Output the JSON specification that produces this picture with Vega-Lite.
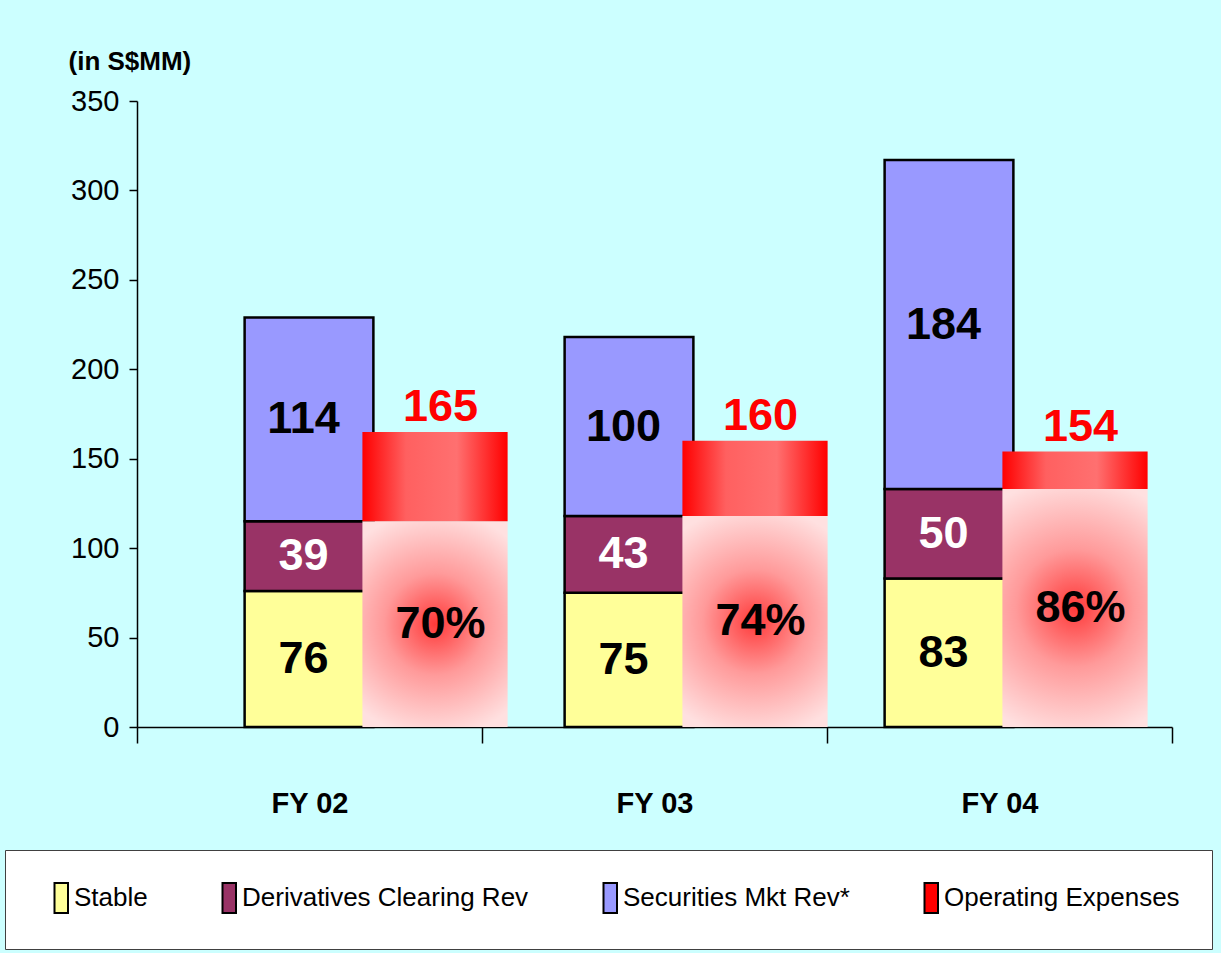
{
  "$schema": "https://vega.github.io/schema/vega-lite/v6.json",
  "width": 1035,
  "height": 626,
  "autosize": {"type": "none"},
  "padding": {"left": 137, "top": 101, "right": 49, "bottom": 226},
  "background": "#CCFFFF",
  "datasets": {
    "revenue": [
      {"year": "FY 02", "kind": "Revenue", "series": "Stable", "value": 76},
      {"year": "FY 02", "kind": "Revenue", "series": "Derivatives Clearing Rev", "value": 39},
      {"year": "FY 02", "kind": "Revenue", "series": "Securities Mkt Rev", "value": 114},
      {"year": "FY 03", "kind": "Revenue", "series": "Stable", "value": 75},
      {"year": "FY 03", "kind": "Revenue", "series": "Derivatives Clearing Rev", "value": 43},
      {"year": "FY 03", "kind": "Revenue", "series": "Securities Mkt Rev", "value": 100},
      {"year": "FY 04", "kind": "Revenue", "series": "Stable", "value": 83},
      {"year": "FY 04", "kind": "Revenue", "series": "Derivatives Clearing Rev", "value": 50},
      {"year": "FY 04", "kind": "Revenue", "series": "Securities Mkt Rev", "value": 184}
    ],
    "expenses": [
      {"year": "FY 02", "kind": "Expenses", "opex": 165, "covered": 115, "pct": "70%"},
      {"year": "FY 03", "kind": "Expenses", "opex": 160, "covered": 118, "pct": "74%"},
      {"year": "FY 04", "kind": "Expenses", "opex": 154, "covered": 133, "pct": "86%"}
    ]
  },
  "layer": [
    {
      "data": {"name": "expenses"},
      "mark": {"type": "rule", "opacity": 0},
      "encoding": {
        "x": {
          "field": "year", "type": "nominal",
          "scale": {"paddingInner": 0, "paddingOuter": 0},
          "axis": {
            "title": null, "tickBand": "extent", "tickSize": 16, "labelAngle": 0,
            "labelFont": "Liberation Sans, Arial, sans-serif",
            "labelFontWeight": "bold", "labelFontSize": 29, "labelPadding": 46,
            "labelBaseline": "top", "domainWidth": 1.5, "tickWidth": 1.5
          }
        }
      }
    },
    {
      "encoding": {
        "x": {
          "field": "year", "type": "nominal",
          "scale": {"paddingInner": 0, "paddingOuter": 0.1172, "align": 1},
          "axis": null
        },
        "xOffset": {
          "field": "kind", "type": "nominal",
          "scale": {"domain": ["Revenue", "Expenses"], "paddingInner": 0, "paddingOuter": 0.168}
        }
      },
      "layer": [
        {
          "data": {"name": "revenue"},
          "transform": [
            {"window": [{"op": "row_number", "as": "rank"}], "groupby": ["year"]},
            {"stack": "value", "groupby": ["year"], "sort": [{"field": "rank", "order": "ascending"}], "as": ["v0", "v1"]}
          ],
          "mark": {"type": "bar", "stroke": "black", "strokeWidth": 2.5, "width": {"band": 0.94}},
          "encoding": {
            "y": {"field": "v0", "type": "quantitative", "title": "(in S$MM)", "scale": {"domain": [0, 350], "nice": false}},
            "y2": {"field": "v1"},
            "color": {
              "field": "series", "type": "nominal",
              "scale": {
                "domain": ["Stable", "Derivatives Clearing Rev", "Securities Mkt Rev", "Operating Expenses"],
                "range": ["#FFFF99", "#993366", "#9999FF", "#FF0000"]
              },
              "legend": {
                "title": null, "orient": "none", "legendX": -132, "legendY": 749,
                "direction": "horizontal", "fillColor": "white", "strokeColor": "#404040",
                "padding": 32, "columnPadding": 57,
                "symbolType": "M0.1,-1H1V1H0.1Z", "symbolSize": 900,
                "symbolStrokeColor": "black", "symbolStrokeWidth": 2, "symbolOpacity": 1,
                "labelFont": "Liberation Sans, Arial, sans-serif",
                "labelFontSize": 26, "labelLimit": 0, "labelOffset": 5, "labelColor": "black",
                "labelExpr": "datum.label == 'Securities Mkt Rev' ? 'Securities Mkt Rev*' : datum.label"
              }
            }
          }
        },
        {
          "data": {"name": "revenue"},
          "transform": [
            {"window": [{"op": "row_number", "as": "rank"}], "groupby": ["year"]},
            {"stack": "value", "groupby": ["year"], "sort": [{"field": "rank", "order": "ascending"}], "as": ["v0", "v1"]},
            {"fold": ["v0", "v1"], "as": ["edge", "pos"]},
            {"aggregate": [{"op": "mean", "field": "pos", "as": "mid"}], "groupby": ["year", "kind", "series", "value"]}
          ],
          "mark": {"type": "text", "font": "Liberation Sans, Arial, sans-serif", "fontWeight": "bold", "fontSize": 45, "baseline": "middle", "align": "center"},
          "encoding": {
            "y": {"field": "mid", "type": "quantitative", "title": "(in S$MM)", "scale": {"domain": [0, 350], "nice": false}},
            "text": {"field": "value", "type": "quantitative"},
            "color": {"condition": {"test": "datum.series === 'Derivatives Clearing Rev'", "value": "white"}, "value": "black"}
          }
        },
        {
          "data": {"name": "expenses"},
          "mark": {
            "type": "bar", "width": {"band": 1.06},
            "fill": {
              "gradient": "radial", "x1": 0.5, "y1": 0.5, "r1": 0, "x2": 0.5, "y2": 0.5, "r2": 0.55,
              "stops": [
                {"offset": 0, "color": "#FF3A3A"},
                {"offset": 0.45, "color": "#FF9A9A"},
                {"offset": 1, "color": "#FFE0E0"}
              ]
            }
          },
          "encoding": {
            "y": {"field": "covered", "type": "quantitative", "title": "(in S$MM)", "scale": {"domain": [0, 350], "nice": false}}
          }
        },
        {
          "data": {"name": "expenses"},
          "mark": {
            "type": "bar", "width": {"band": 1.06},
            "fill": {
              "gradient": "linear", "x1": 0, "y1": 0, "x2": 1, "y2": 0,
              "stops": [
                {"offset": 0, "color": "#FF0000"},
                {"offset": 0.3, "color": "#FF6060"},
                {"offset": 0.65, "color": "#FF7070"},
                {"offset": 1, "color": "#FF0000"}
              ]
            }
          },
          "encoding": {
            "y": {"field": "opex", "type": "quantitative", "title": "(in S$MM)", "scale": {"domain": [0, 350], "nice": false}},
            "y2": {"field": "covered"}
          }
        },
        {
          "data": {"name": "expenses"},
          "mark": {"type": "text", "font": "Liberation Sans, Arial, sans-serif", "fontWeight": "bold", "fontSize": 45, "baseline": "bottom", "align": "center", "dy": -2, "color": "#FF0000"},
          "encoding": {
            "y": {"field": "opex", "type": "quantitative", "title": "(in S$MM)", "scale": {"domain": [0, 350], "nice": false}},
            "text": {"field": "opex", "type": "quantitative"}
          }
        },
        {
          "data": {"name": "expenses"},
          "transform": [
            {"stack": "covered", "groupby": ["year"], "as": ["c0", "c1"]},
            {"fold": ["c0", "c1"], "as": ["edge", "pos"]},
            {"aggregate": [{"op": "mean", "field": "pos", "as": "mid"}], "groupby": ["year", "kind", "pct"]}
          ],
          "mark": {"type": "text", "font": "Liberation Sans, Arial, sans-serif", "fontWeight": "bold", "fontSize": 45, "baseline": "middle", "align": "center", "color": "black"},
          "encoding": {
            "y": {"field": "mid", "type": "quantitative", "title": "(in S$MM)", "scale": {"domain": [0, 350], "nice": false}},
            "text": {"field": "pct", "type": "nominal"}
          }
        }
      ]
    }
  ],
  "resolve": {"scale": {"x": "independent"}},
  "config": {
    "view": {"stroke": null},
    "axis": {"domainColor": "black", "tickColor": "black", "labelColor": "black", "grid": false},
    "axisY": {
      "tickSize": 8, "labelPadding": 10, "tickCount": 7, "domainWidth": 1.5, "tickWidth": 1.5,
      "labelFont": "Liberation Sans, Arial, sans-serif",
      "labelFontSize": 29,
      "titleAngle": 0, "titleAlign": "left", "titleBaseline": "alphabetic",
      "titleX": -69, "titleY": -32,
      "titleFont": "Liberation Sans, Arial, sans-serif",
      "titleFontSize": 26, "titleFontWeight": "bold", "titleColor": "black"
    }
  }
}
